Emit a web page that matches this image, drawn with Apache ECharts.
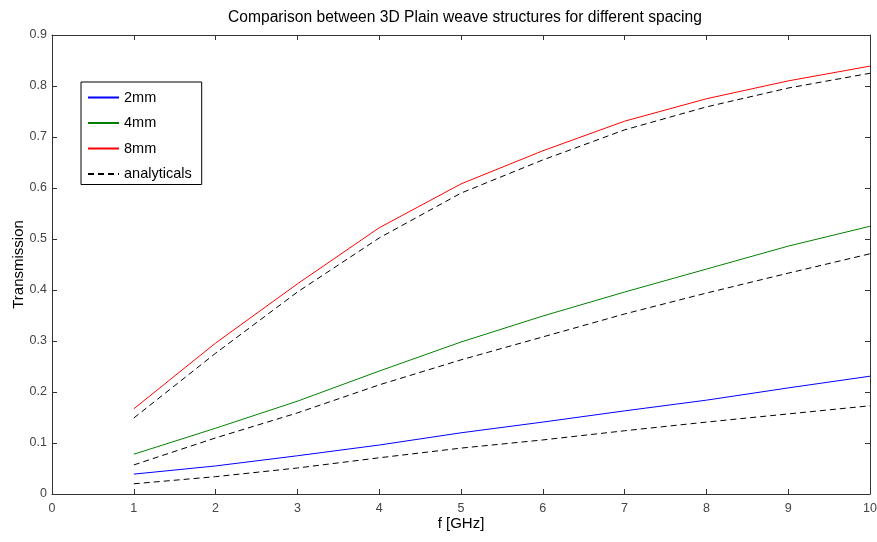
<!DOCTYPE html>
<html><head><meta charset="utf-8">
<script src="https://cdn.jsdelivr.net/npm/echarts@6/dist/echarts.min.js"></script>
<style>html,body{margin:0;padding:0;background:#fff}#c{width:877px;height:542px}</style>
</head><body><div id="c"></div>
<script>
const freq = [1,2,3,4,5,6,7,8,9,10];
const s2mm = [0.039,0.055,0.075,0.096,0.120,0.141,0.163,0.184,0.208,0.231];
const s4mm = [0.078,0.129,0.182,0.241,0.298,0.349,0.396,0.441,0.486,0.525];
const s8mm = [0.167,0.296,0.412,0.522,0.608,0.673,0.731,0.775,0.810,0.839];
const a2mm = [0.020,0.034,0.051,0.071,0.090,0.106,0.124,0.141,0.157,0.173];
const a4mm = [0.057,0.110,0.159,0.214,0.263,0.308,0.353,0.394,0.433,0.471];
const a8mm = [0.149,0.276,0.396,0.502,0.590,0.655,0.714,0.759,0.796,0.825];
const xTicks = [0,1,2,3,4,5,6,7,8,9,10];
const yTicks = [0,0.1,0.2,0.3,0.4,0.5,0.6,0.7,0.8,0.9];

const pairs = arr => freq.map((f,i)=>[f,arr[i]]);
const font = 'Liberation Sans, Arial, sans-serif';
const axisCommon = {
  min:0,
  axisLine:{show:true,onZero:false,lineStyle:{color:'#333',width:1}},
  axisTick:{show:true,inside:true,length:5,lineStyle:{color:'#333'}},
  splitLine:{show:false}
};
const chart = echarts.init(document.getElementById('c'));
const solid = (name,color,arr)=>({name,type:'line',data:pairs(arr),symbol:'none',
  lineStyle:{color,width:1},itemStyle:{color},xAxisIndex:0,yAxisIndex:0,animation:false});
const dashed = (arr)=>({name:'analyticals',type:'line',data:pairs(arr),symbol:'none',
  lineStyle:{color:'#000',width:1,type:[6,4]},itemStyle:{color:'#000'},xAxisIndex:0,yAxisIndex:0,animation:false});
chart.setOption({
  animation:false,
  title:{text:'Comparison between 3D Plain weave structures for different spacing',left:460,top:5,textAlign:'center',
    textStyle:{fontFamily:font,fontSize:15.6,fontWeight:'normal',color:'#000'}},
  grid:{left:52,right:7,top:35,bottom:48,containLabel:false,outerBoundsMode:'none'},
  legend:{orient:'vertical',left:81,top:82,width:121,itemWidth:31,itemHeight:10,itemGap:10.5,
    padding:[8,10,3,6],borderColor:'#000',borderWidth:1,backgroundColor:'#fff',
    itemStyle:{opacity:0},
    textStyle:{fontFamily:font,fontSize:14.5,color:'#000'},
    data:['2mm','4mm','8mm','analyticals']},
  xAxis:[
    Object.assign({},axisCommon,{type:'value',max:10,interval:1,position:'bottom',
      name:'f [GHz]',nameLocation:'middle',nameGap:22,nameMoveOverlap:false,
      nameTextStyle:{fontFamily:font,fontSize:15,color:'#000'},
      axisLabel:{fontFamily:font,fontSize:12.5,color:'#444',margin:8}}),
    Object.assign({},axisCommon,{type:'value',max:10,interval:1,position:'top',axisLabel:{show:false}})
  ],
  yAxis:[
    Object.assign({},axisCommon,{type:'value',max:0.9,interval:0.1,position:'left',
      name:'Transmission',nameLocation:'middle',nameGap:26,nameMoveOverlap:false,
      nameTextStyle:{fontFamily:font,fontSize:15,color:'#000'},
      axisLabel:{fontFamily:font,fontSize:12.5,color:'#444',margin:5}}),
    Object.assign({},axisCommon,{type:'value',max:0.9,interval:0.1,position:'right',axisLabel:{show:false}})
  ],
  series:[
    solid('2mm','#0000ff',s2mm),
    solid('4mm','#008000',s4mm),
    solid('8mm','#ff0000',s8mm),
    dashed(a2mm), dashed(a4mm), dashed(a8mm)
  ]
});
</script></body></html>
